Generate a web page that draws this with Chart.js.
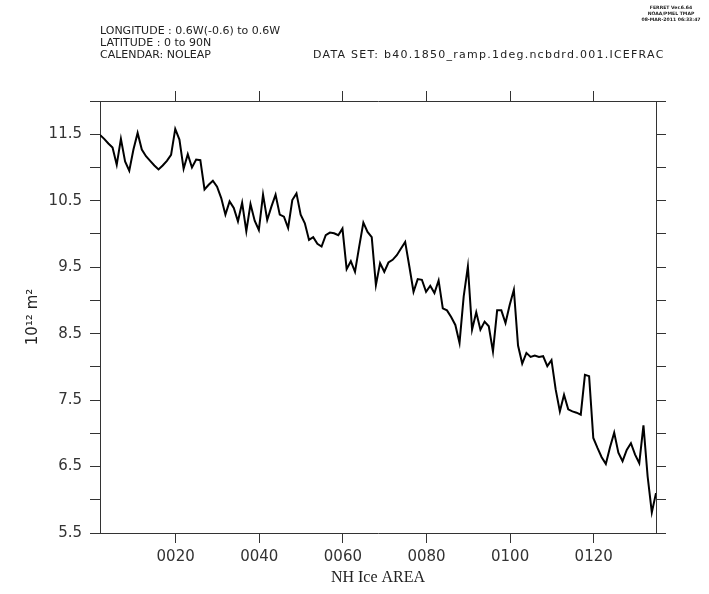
<!DOCTYPE html>
<html>
<head>
<meta charset="utf-8">
<script src="https://cdn.jsdelivr.net/npm/chart.js@4/dist/chart.umd.min.js"></script>
<style>
  html, body { margin: 0; padding: 0; background: #fff; }
  #wrap { position: relative; width: 709px; height: 594px; overflow: hidden; }
  canvas { position: absolute; left: 0; top: 0; }
  .hdr { position: absolute; font-family: "DejaVu Sans", sans-serif; color: #222; white-space: nowrap; }
  #meta { left: 100px; top: 25px; font-size: 11px; line-height: 12px; }
  #dset { left: 313px; top: 49px; font-size: 11px; line-height: 12px; letter-spacing: 1.25px; }
  #ferret { left: 630px; top: 5px; width: 82px; text-align: center; font-size: 4.6px; line-height: 6px; font-weight: bold; }
</style>
</head>
<body>
<div id="wrap">
  <canvas id="c" width="709" height="594"></canvas>
  <div class="hdr" id="meta">LONGITUDE : 0.6W(-0.6) to 0.6W<br>LATITUDE : 0 to 90N<br>CALENDAR: NOLEAP</div>
  <div class="hdr" id="dset">DATA SET: b40.1850_ramp.1deg.ncbdrd.001.ICEFRAC</div>
  <div class="hdr" id="ferret">FERRET Ver.6.64<br>NOAA/PMEL TMAP<br>08-MAR-2011 06:33:47</div>
</div>
<script>
// ---- data ----
const years = [
  1,2,3,4,5,6,7,8,9,10,11,12,13,14,15,16,17,18,19,20,
  21,22,23,24,25,26,27,28,29,30,31,32,33,34,35,36,37,38,39,40,
  41,42,43,44,45,46,47,48,49,50,51,52,53,54,55,56,57,58,59,60,
  61,62,63,64,65,66,67,68,69,70,71,72,73,74,75,76,77,78,79,80,
  81,82,83,84,85,86,87,88,89,90,91,92,93,94,95,96,97,98,99,100,
  101,102,103,104,105,106,107,108,109,110,111,112,113,114,115,116,117,118,119,120,
  121,122,123,124,125,126,127,128,129,130,131,132,133,134
];
// NH ice area, 10^12 m^2 (annual means)
const iceArea = [
  11.49, 11.43, 11.36, 11.30, 11.04, 11.43, 11.09, 10.95, 11.27, 11.52,
  11.27, 11.17, 11.10, 11.03, 10.97, 11.03, 11.10, 11.19, 11.58, 11.42,
  10.98, 11.20, 11.00, 11.12, 11.11, 10.67, 10.74,
  10.80, 10.71, 10.54, 10.29, 10.49, 10.39, 10.19, 10.47, 10.04, 10.45,
  10.20, 10.06, 10.59, 10.21, 10.41, 10.59, 10.29, 10.26, 10.09, 10.51,
  10.61, 10.29, 10.16, 9.91, 9.95, 9.85, 9.81,
  9.98, 10.02, 10.01, 9.98, 10.08, 9.47, 9.59, 9.43, 9.81, 10.17,
  10.03, 9.95, 9.23, 9.56, 9.43, 9.57, 9.61, 9.68, 9.78, 9.88,
  9.51, 9.13, 9.32, 9.31, 9.13, 9.22, 9.11,
  9.30, 8.88, 8.85, 8.75, 8.63, 8.36, 9.06, 9.51, 8.56, 8.82,
  8.56, 8.68, 8.61, 8.23, 8.85, 8.85, 8.66, 8.93, 9.16, 8.32,
  8.05, 8.21, 8.15, 8.17, 8.15, 8.16,
  8.01, 8.10, 7.66, 7.33, 7.58, 7.36, 7.33, 7.31, 7.28, 7.88,
  7.86, 6.93, 6.78, 6.64, 6.54, 6.79, 7.01, 6.71, 6.58, 6.75,
  6.85, 6.68, 6.55, 7.12, 6.35, 5.81, 6.10
];
// annual means are time-stamped late in each year (fraction of year)
const stampFraction = 0.9;
const xTickYears = [20, 40, 60, 80, 100, 120];
const yTickValues = [5.5, 6.0, 6.5, 7.0, 7.5, 8.0, 8.5, 9.0, 9.5, 10.0, 10.5, 11.0, 11.5, 12.0];
const yLabelValues = [5.5, 6.5, 7.5, 8.5, 9.5, 10.5, 11.5];
const xTitle = 'NH Ice AREA';
const yTitle = '10\u00B9\u00B2 m\u00B2';

// ---- chart ----
const points = years.map((y, i) => ({ x: y + stampFraction, y: iceArea[i] }));
const xMin = years[0] + stampFraction;
const xMax = years[years.length - 1] + stampFraction;
const axisColor = '#333';
const tickFont = { family: 'DejaVu Sans', size: 15 };

function gridOpts() {
  return { drawOnChartArea: false, drawTicks: true, tickLength: 10, color: axisColor, lineWidth: 1 };
}
function borderOpts() { return { display: true, color: axisColor, width: 1 }; }

new Chart(document.getElementById('c'), {
  type: 'line',
  data: {
    datasets: [{
      data: points,
      xAxisID: 'x', yAxisID: 'y',
      borderColor: '#000', borderWidth: 2, pointRadius: 0, tension: 0, fill: false
    }]
  },
  options: {
    responsive: false, animation: false,
    layout: { padding: 0 },
    plugins: { legend: { display: false }, tooltip: { enabled: false } },
    scales: {
      x: {
        type: 'linear', position: 'bottom', min: xMin, max: xMax,
        grid: gridOpts(), border: borderOpts(),
        afterBuildTicks: s => { s.ticks = xTickYears.map(v => ({ value: v })); },
        ticks: { font: tickFont, color: '#333', padding: 5, maxRotation: 0,
                 callback: v => String(v).padStart(4, '0') },
        title: { display: true, text: xTitle, color: '#222',
                 font: { family: 'Liberation Serif', size: 16 }, padding: { top: 0, bottom: 7 } },
        afterFit: s => { s.height = 61; }
      },
      xT: {
        type: 'linear', position: 'top', min: xMin, max: xMax,
        grid: gridOpts(), border: borderOpts(),
        afterBuildTicks: s => { s.ticks = xTickYears.map(v => ({ value: v })); },
        ticks: { display: true, callback: () => '' },
        afterFit: s => { s.height = 101; }
      },
      y: {
        type: 'linear', position: 'left', min: 5.5, max: 12.0,
        grid: gridOpts(), border: borderOpts(),
        afterBuildTicks: s => { s.ticks = yTickValues.map(v => ({ value: v })); },
        ticks: { font: tickFont, color: '#333', padding: 8,
                 callback: v => yLabelValues.some(l => Math.abs(l - v) < 1e-6) ? v.toFixed(1) : '' },
        title: { display: true, text: yTitle, color: '#222',
                 font: { family: 'DejaVu Sans', size: 15 }, padding: { top: 24, bottom: 0 } },
        afterFit: s => { s.width = 100; }
      },
      yR: {
        type: 'linear', position: 'right', min: 5.5, max: 12.0,
        grid: gridOpts(), border: borderOpts(),
        afterBuildTicks: s => { s.ticks = yTickValues.map(v => ({ value: v })); },
        ticks: { display: true, callback: () => '' },
        afterFit: s => { s.width = 53; }
      }
    }
  }
});
</script>
</body>
</html>
